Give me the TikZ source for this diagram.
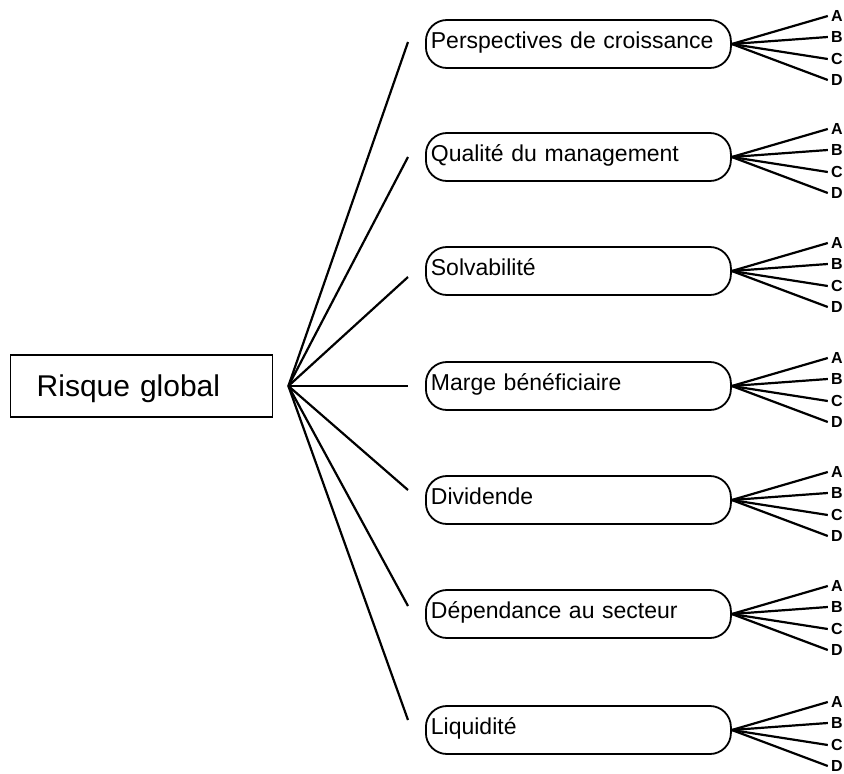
\documentclass[tikz,border=0pt]{standalone}
\usepackage{fontspec}
\setmainfont{Liberation Sans}
\usetikzlibrary{positioning}

\tikzset{
  risque/.style={draw, line width=1.4pt, anchor=west, minimum height=62pt, text width=210pt, inner xsep=26pt, align=left, text height=21pt, text depth=0pt, font=\fontsize{30}{34}\selectfont},
  critere/.style={draw, line width=1.8pt, rounded corners=21pt, anchor=west, minimum height=48pt, text width=295pt, inner xsep=5pt, inner ysep=0pt, align=left, text height=21pt, text depth=13pt, font=\fontsize{23}{26}\selectfont},
  lettre/.style={anchor=west, inner xsep=3pt, inner ysep=0pt, font=\fontsize{16}{16}\selectfont\bfseries},
  lien/.style={line width=2.2pt}
}

\begin{document}
\begin{tikzpicture}[x=1pt, y=-1pt]
    \useasboundingbox (0,0) rectangle (844,774);

    % Global risk box
    \node[risque] (risque) at (10,386) {Risque global};
    \coordinate[right=15pt of risque] (hub);

    % The seven criteria
    \node[critere] (persp) at (425,44) {Perspectives de croissance};
    \node[critere] (qualite) at (425,157) {Qualité du management};
    \node[critere] (solv) at (425,271) {Solvabilité};
    \node[critere] (marge) at (425,386) {Marge bénéficiaire};
    \node[critere] (divid) at (425,500) {Dividende};
    \node[critere] (dep) at (425,614) {Dépendance au secteur};
    \node[critere] (liq) at (425,730) {Liquidité};

    % Lines from the global risk to the criteria
    \draw[lien] (hub) -- ([xshift=-17pt,yshift=2pt]persp.west);
    \draw[lien] (hub) -- ([xshift=-17pt]qualite.west);
    \draw[lien] (hub) -- ([xshift=-17pt,yshift=-6pt]solv.west);
    \draw[lien] (hub) -- ([xshift=-17pt]marge.west);
    \draw[lien] (hub) -- ([xshift=-17pt,yshift=10pt]divid.west);
    \draw[lien] (hub) -- ([xshift=-17pt,yshift=8pt]dep.west);
    \draw[lien] (hub) -- ([xshift=-17pt,yshift=10pt]liq.west);

    % Grades A to D for each criterion
    \foreach \b in {persp,qualite,solv,marge,divid,dep,liq}{
        \foreach \l/\dy in {A/28,B/7,C/-15,D/-36}{
            \node[lettre] (\b-\l) at ([xshift=96pt,yshift=\dy pt]\b.east) {\l};
            \draw[lien] (\b.east) -- (\b-\l.west);
        }
    }
\end{tikzpicture}
\end{document}
